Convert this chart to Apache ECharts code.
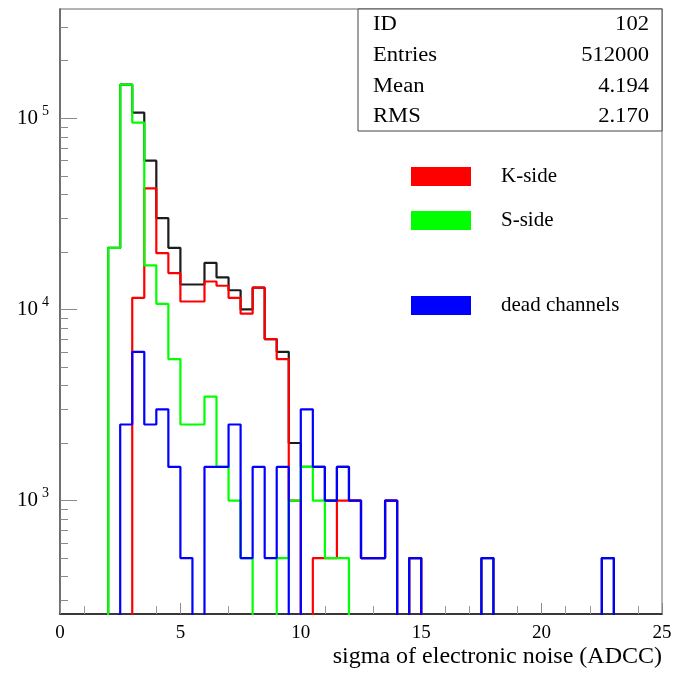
<!DOCTYPE html>
<html>
<head>
<meta charset="utf-8">
<script src="https://cdn.jsdelivr.net/npm/echarts@6/dist/echarts.min.js"></script>
<style>
  html, body { margin: 0; padding: 0; background: #ffffff; }
  #chart { width: 677px; height: 673px; }
</style>
</head>
<body>
<div id="chart"></div>
<script>
// Histogram binning: 50 bins of width 0.5 covering 0 .. 25 ADC counts
const binStart = 0;
const binWidth = 0.5;

// Entries per bin (bin i covers [i*0.5, i*0.5 + 0.5))
const totalCounts = [
  0, 0, 0, 0, 21000, 150000, 107000, 60000, 30000, 21000,
  13500, 13500, 17500, 14700, 12600, 10000, 13000, 7000, 6000, 2000,
  1500, 1500, 1000, 1500, 1000, 500, 500, 1000, 0, 500,
  0, 0, 0, 0, 0, 500, 0, 0, 0, 0,
  0, 0, 0, 0, 0, 500, 0, 0, 0, 0
];
const kSideCounts = [
  0, 0, 0, 0, 0, 0, 11500, 43000, 19700, 15500,
  11000, 11000, 14000, 13300, 11500, 9500, 13000, 7000, 5500, 1000,
  0, 500, 500, 1000, 1000, 500, 500, 1000, 0, 500,
  0, 0, 0, 0, 0, 0, 0, 0, 0, 0,
  0, 0, 0, 0, 0, 0, 0, 0, 0, 0
];
const sSideCounts = [
  0, 0, 0, 0, 21000, 150000, 95000, 17000, 10700, 5500,
  2500, 2500, 3500, 1500, 1000, 500, 0, 0, 500, 1000,
  1500, 1000, 500, 500, 0, 0, 0, 0, 0, 0,
  0, 0, 0, 0, 0, 0, 0, 0, 0, 0,
  0, 0, 0, 0, 0, 0, 0, 0, 0, 0
];
const deadCounts = [
  0, 0, 0, 0, 0, 2500, 6000, 2500, 3000, 1500,
  500, 0, 1500, 1500, 2500, 500, 1500, 500, 1500, 0,
  3000, 1500, 1000, 1500, 1000, 500, 500, 1000, 0, 500,
  0, 0, 0, 0, 0, 500, 0, 0, 0, 0,
  0, 0, 0, 0, 0, 500, 0, 0, 0, 0
];

const seriesNames = ['all channels', 'K-side', 'S-side', 'dead channels'];
const seriesCounts = [totalCounts, kSideCounts, sSideCounts, deadCounts];
const seriesColors = ['#1c1c1c', '#ff0000', '#00ff00', '#0000ff'];

// Statistics box
const statNames = ['ID', 'Entries', 'Mean', 'RMS'];
const statValues = ['102', '512000', '4.194', '2.170'];

// Axes
const xMin = 0, xMax = 25, xMajorStep = 5;
const yMin = 255, yMax = 373000;
const yDecades = [3, 4, 5];
const yMinorMantissas = [2, 3, 4, 5, 6, 7, 8, 9];
const xTitle = 'sigma of electronic noise (ADCC)';

const serif = '"Liberation Serif", "Times New Roman", serif';

// Empty bins are drawn below the frame so the outline drops to the axis (clipped by the grid)
const EMPTY_LEVEL = 1;

function histogramOutline(counts) {
  const pts = counts.map((c, i) => [binStart + i * binWidth, c > 0 ? c : EMPTY_LEVEL]);
  const last = counts[counts.length - 1];
  pts.push([binStart + counts.length * binWidth, last > 0 ? last : EMPTY_LEVEL]);
  return pts;
}

// Tick positions for the companion (log-exponent) axes
const logMin = Math.log10(yMin);
const logMax = Math.log10(yMax);
const minorTickExps = [];
for (let d = 2; d <= 5; d++) {
  yMinorMantissas.forEach(m => {
    const e = Math.log10(m * Math.pow(10, d));
    if (e >= logMin && e <= logMax) minorTickExps.push(e);
  });
}

const GRID = { left: 60, right: 15, top: 9, bottom: 59 };

const series = seriesNames.map((name, k) => ({
  name: name,
  type: 'line',
  step: 'end',
  xAxisIndex: 0,
  yAxisIndex: 0,
  data: histogramOutline(seriesCounts[k]),
  showSymbol: false,
  symbol: 'none',
  clip: true,
  color: seriesColors[k],
  lineStyle: { color: seriesColors[k], width: 2.2 },
  emphasis: { disabled: true },
  z: 2 + k
}));

// Statistics box drawn as a small table in the upper right corner of the frame
const statBox = { left: 358, top: 9, width: 304, height: 122, rowTop: 25, rowStep: 30.7 };
const statTextStretch = 1.13;
const statGraphics = [{
  type: 'rect',
  shape: { x: statBox.left, y: statBox.top, width: statBox.width, height: statBox.height },
  style: { fill: '#ffffff', stroke: '#444444', lineWidth: 1 },
  z: 100
}];
statNames.forEach((n, i) => {
  const y = statBox.rowTop + i * statBox.rowStep;
  statGraphics.push({
    type: 'text', x: statBox.left + 15, y: y, z: 101, scaleX: statTextStretch,
    style: { text: n, fontFamily: serif, fontSize: 20, fill: '#000', align: 'left', verticalAlign: 'middle' }
  });
  statGraphics.push({
    type: 'text', x: statBox.left + statBox.width - 13, y: y, z: 101, scaleX: statTextStretch,
    style: { text: statValues[i], fontFamily: serif, fontSize: 20, fill: '#000', align: 'right', verticalAlign: 'middle' }
  });
});

const legendCommon = {
  orient: 'vertical',
  left: 411,
  padding: 0,
  icon: 'rect',
  itemWidth: 60,
  itemHeight: 19,
  itemGap: 23,
  selectedMode: false,
  itemStyle: { borderWidth: 0 },
  textStyle: { fontFamily: serif, fontSize: 21, color: '#000', lineHeight: 19, padding: [0, 0, 0, 25] }
};

const chart = echarts.init(document.getElementById('chart'), null, { renderer: 'canvas' });
chart.setOption({
  animation: false,
  backgroundColor: '#ffffff',
  grid: Object.assign({
    show: true,
    borderColor: '#9a9a9a',
    borderWidth: 1.5,
    backgroundColor: 'transparent',
    outerBoundsMode: 'none'
  }, GRID),
  legend: [
    Object.assign({}, legendCommon, { top: 166, data: ['K-side', 'S-side'] }),
    Object.assign({}, legendCommon, { top: 295, data: ['dead channels'] })
  ],
  xAxis: [{
    type: 'value',
    min: xMin,
    max: xMax,
    interval: xMajorStep,
    name: xTitle,
    nameLocation: 'end',
    nameGap: 0,
    nameTextStyle: {
      fontFamily: serif, fontSize: 24, color: '#000',
      align: 'right', verticalAlign: 'top', padding: [31, 0, 0, 0]
    },
    axisLine: { show: true, onZero: false, lineStyle: { color: '#111', width: 1.5 } },
    axisTick: { show: true, inside: true, length: 11, lineStyle: { color: '#8a8a8a', width: 1 } },
    minorTick: { show: true, splitNumber: 5, length: 8, lineStyle: { color: '#9a9a9a', width: 1 } },
    axisLabel: { fontFamily: serif, fontSize: 19, color: '#000', margin: 10 },
    splitLine: { show: false },
    minorSplitLine: { show: false }
  }],
  yAxis: [
    {
      // data axis: logarithmic counts
      type: 'log',
      logBase: 10,
      min: yMin,
      max: yMax,
      position: 'left',
      axisLine: { show: true, lineStyle: { color: '#5a5a5a', width: 1.5 } },
      axisTick: { show: false },
      axisLabel: { show: false },
      splitLine: { show: false },
      minorTick: { show: false }
    },
    {
      // decade ticks and labels (exponent scale)
      type: 'value',
      min: logMin,
      max: logMax,
      position: 'left',
      axisLine: { show: false },
      axisTick: { show: true, inside: true, length: 17, customValues: yDecades, lineStyle: { color: '#8a8a8a', width: 1 } },
      axisLabel: {
        show: true,
        customValues: yDecades,
        margin: 11,
        formatter: v => '{b|10}{e|' + Math.round(v) + '}',
        rich: {
          b: { fontFamily: serif, fontSize: 21, lineHeight: 28, color: '#000' },
          e: { fontFamily: serif, fontSize: 14, lineHeight: 14, color: '#000', verticalAlign: 'top', padding: [0, 0, 0, 4] }
        }
      },
      splitLine: { show: false }
    },
    {
      // sub-decade ticks 2..9 x 10^n
      type: 'value',
      min: logMin,
      max: logMax,
      position: 'left',
      axisLine: { show: false },
      axisTick: { show: true, inside: true, length: 8, customValues: minorTickExps, lineStyle: { color: '#8a8a8a', width: 1 } },
      axisLabel: { show: false },
      splitLine: { show: false }
    }
  ],
  series: series,
  graphic: statGraphics
});
</script>
</body>
</html>
